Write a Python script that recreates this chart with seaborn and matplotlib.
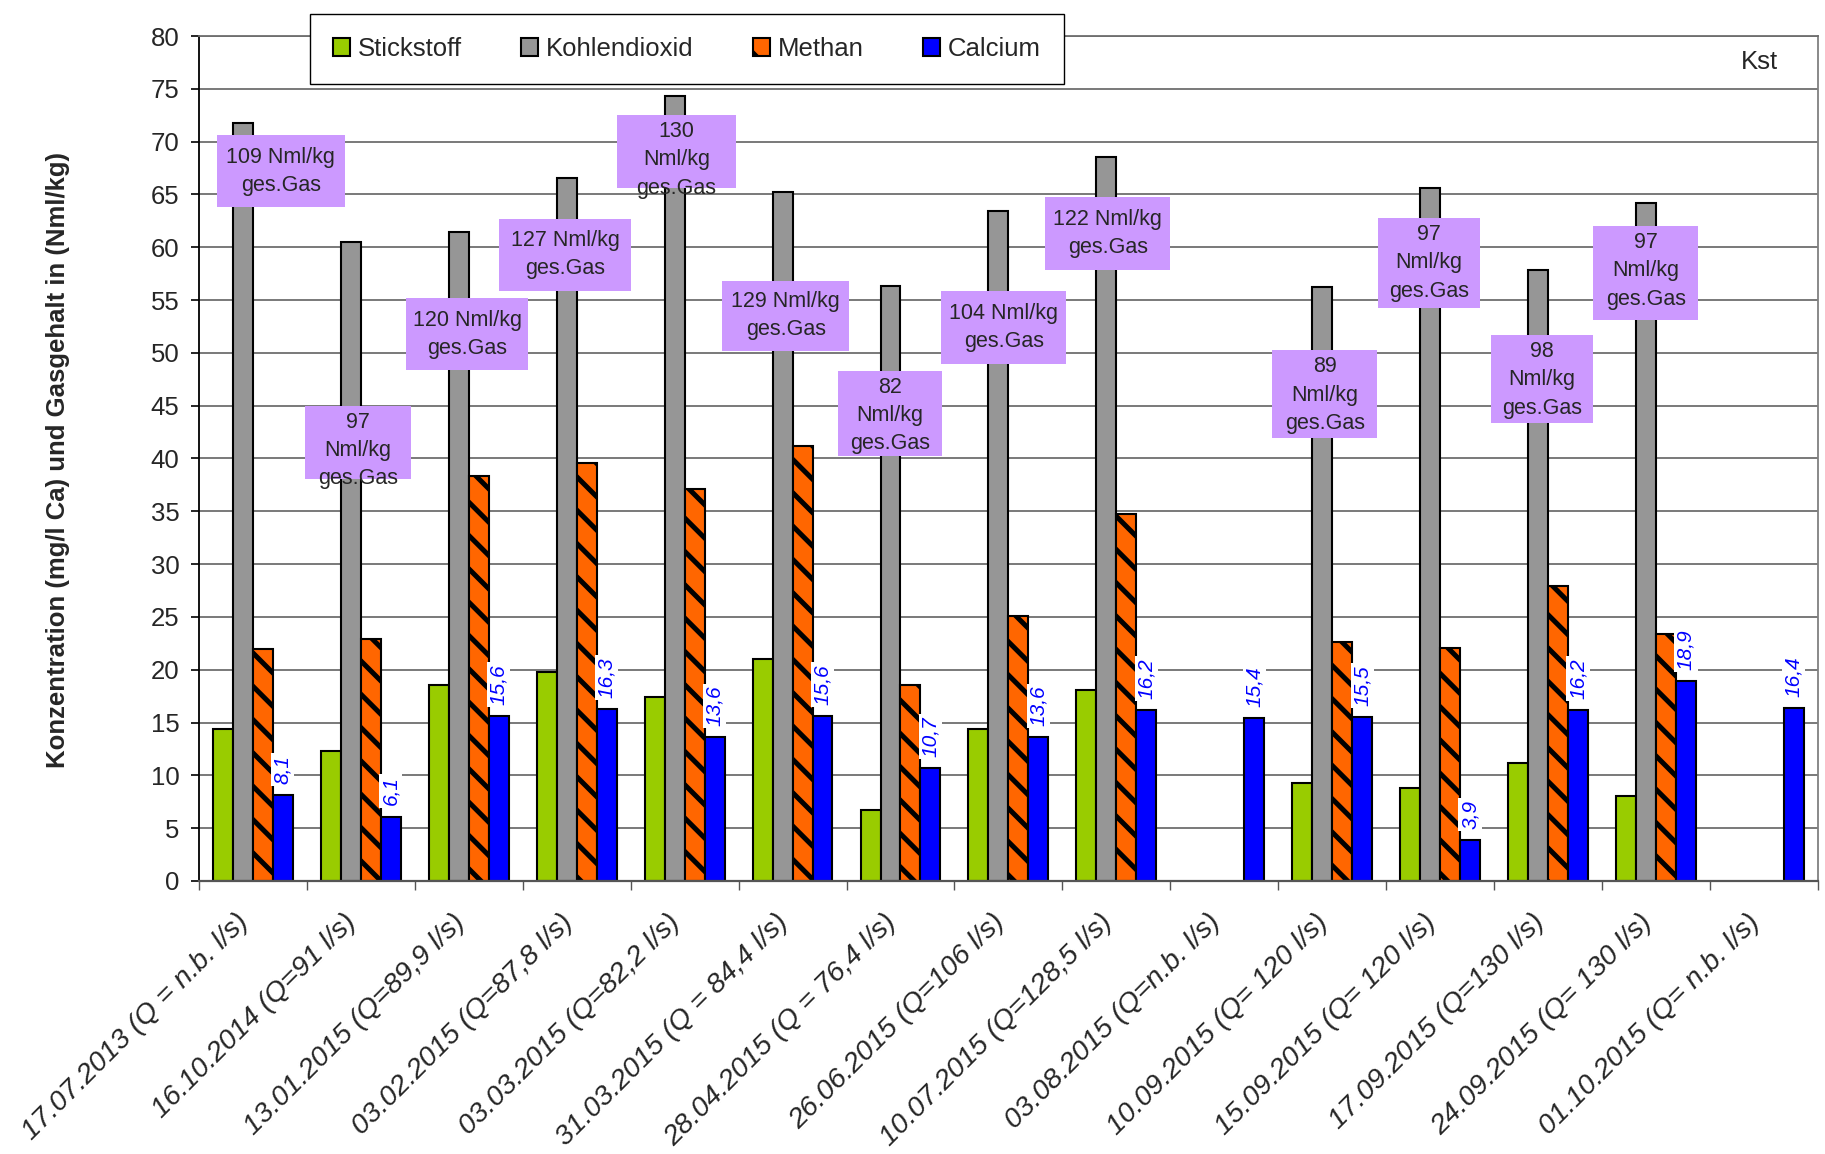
import numpy as np
import pandas as pd
import matplotlib
matplotlib.use("Agg")
import matplotlib.pyplot as plt
import seaborn as sns
from matplotlib.patches import Patch, Rectangle
from matplotlib import transforms

# ---------------- data ----------------
categories = [
    "17.07.2013 (Q = n.b. l/s)", "16.10.2014 (Q=91 l/s)", "13.01.2015 (Q=89,9 l/s)",
    "03.02.2015 (Q=87,8 l/s)", "03.03.2015 (Q=82,2 l/s)", "31.03.2015 (Q = 84,4 l/s)",
    "28.04.2015 (Q = 76,4 l/s)", "26.06.2015 (Q=106 l/s)", "10.07.2015 (Q=128,5 l/s)",
    "03.08.2015 (Q=n.b. l/s)", "10.09.2015 (Q= 120 l/s)", "15.09.2015 (Q= 120 l/s)",
    "17.09.2015 (Q=130 l/s)", "24.09.2015 (Q= 130 l/s)", "01.10.2015 (Q= n.b. l/s)",
]
series_names = ["Stickstoff", "Kohlendioxid", "Methan", "Calcium"]
nan = np.nan
stickstoff = [14.4, 12.3, 18.6, 19.8, 17.4, 21.0, 6.7, 14.4, 18.1, nan, 9.3, 8.8, 11.2, 8.0, nan]
kohlendioxid = [71.8, 60.5, 61.4, 66.6, 74.3, 65.2, 56.3, 63.4, 68.5, nan, 56.2, 65.6, 57.8, 64.2, nan]
methan = [22.0, 22.9, 38.3, 39.6, 37.1, 41.2, 18.6, 25.1, 34.7, nan, 22.6, 22.1, 27.9, 23.4, nan]
calcium = [8.1, 6.1, 15.6, 16.3, 13.6, 15.6, 10.7, 13.6, 16.2, 15.4, 15.5, 3.9, 16.2, 18.9, 16.4]

gas_texts = [
    "109 Nml/kg\nges.Gas", "97\nNml/kg\nges.Gas", "120 Nml/kg\nges.Gas", "127 Nml/kg\nges.Gas",
    "130\nNml/kg\nges.Gas", "129 Nml/kg\nges.Gas", "82\nNml/kg\nges.Gas", "104 Nml/kg\nges.Gas",
    "122 Nml/kg\nges.Gas", "89\nNml/kg\nges.Gas", "97\nNml/kg\nges.Gas", "98\nNml/kg\nges.Gas",
    "97\nNml/kg\nges.Gas",
]

# ---------------- layout / style (annotation box placement) ----------------
box_cx = [0.258, 0.974, 1.984, 2.892, 3.925, 4.936, 5.904, 6.956, 7.92, 9.931, 10.897, 11.942, 12.906]
box_cy = [67.2, 41.55, 51.75, 59.3, 69.05, 53.5, 44.3, 52.4, 61.3, 46.1, 58.5, 47.5, 57.55]
box_w = [1.186, 0.98, 1.13, 1.22, 1.10, 1.18, 0.96, 1.16, 1.16, 0.97, 0.95, 0.95, 0.97]
box_h = [6.82, 6.9, 6.8, 6.8, 6.9, 6.7, 8.05, 7.0, 7.0, 8.25, 8.5, 8.35, 8.9]

colors = ["#99CC00", "#969696", "#FF6600", "#0000FF"]

sns.set_style("white")
plt.rcParams["font.family"] = ["Liberation Sans", "DejaVu Sans"]
plt.rcParams["hatch.linewidth"] = 3.6
plt.rcParams["hatch.color"] = "black"

rows = []
for name, vals in zip(series_names, [stickstoff, kohlendioxid, methan, calcium]):
    for cat, v in zip(categories, vals):
        if not np.isnan(v):
            rows.append({"Datum": cat, "Wert": v, "Serie": name})
df = pd.DataFrame(rows)

fig = plt.figure(figsize=(18.25, 11.54), dpi=100)
ax = fig.add_axes([0.109, 0.2366, 0.8871, 0.7322])

sns.barplot(data=df, x="Datum", y="Wert", hue="Serie", order=categories,
            hue_order=series_names, palette=colors, width=0.74, gap=0,
            saturation=1, edgecolor="black", linewidth=1.5, errorbar=None,
            legend=False, ax=ax)

for p in ax.containers[2]:
    p.set_hatch("\\")

ax.set_xlim(-0.5, len(categories) - 0.5)
ax.set_ylim(0, 80)
ax.set_yticks(np.arange(0, 81, 5))
ax.set_axisbelow(True)
ax.yaxis.grid(True, color="#6e6e6e", linewidth=1.3)
ax.xaxis.grid(False)
ax.set_xlabel("")
ax.set_ylabel("")

ax.spines["left"].set_color("black")
ax.spines["left"].set_linewidth(1.3)
ax.spines["bottom"].set_color("#555555")
ax.spines["bottom"].set_linewidth(1.6)
ax.spines["right"].set_color("#808080")
ax.spines["right"].set_linewidth(1.3)
ax.spines["top"].set_color("#6e6e6e")
ax.spines["top"].set_linewidth(1.3)

ax.tick_params(axis="y", which="major", direction="out", length=6, width=1.2,
               color="black", labelsize=18.5, pad=8, left=True)
ax.set_xticks(range(len(categories)))
ax.set_xticklabels(categories)
ax.set_xticks(np.arange(-0.5, len(categories), 1), minor=True)
ax.tick_params(axis="x", which="major", length=0, pad=27, labelsize=20.5)
ax.tick_params(axis="x", which="minor", direction="out", length=6.5, width=1.0,
               color="#555555", bottom=True)
shift = transforms.ScaledTranslation(-8 / 100, 0, fig.dpi_scale_trans)
for lab in ax.get_xticklabels():
    lab.set_rotation(45)
    lab.set_ha("right")
    lab.set_va("center")
    lab.set_rotation_mode("anchor")
    lab.set_fontstyle("italic")
    lab.set_transform(lab.get_transform() + shift)

# calcium value labels
ca_labels = [f"{v:.1f}".replace(".", ",") for v in calcium]
ax.bar_label(ax.containers[3], labels=ca_labels, rotation=90, padding=8,
             color="#0000FF", fontstyle="italic", fontsize=15,
             bbox=dict(facecolor="white", edgecolor="none", pad=1.5), zorder=6)

# purple gas-content boxes
for txt, cx, cy, w, h in zip(gas_texts, box_cx, box_cy, box_w, box_h):
    rect = Rectangle((cx - w / 2, cy - h / 2), w, h, facecolor="#CC99FF",
                     edgecolor="none", zorder=7)
    ax.add_patch(rect)
    nlines = txt.count("\n") + 1
    if nlines == 3:
        tr = transforms.offset_copy(ax.transData, fig=fig, x=0, y=-6, units="dots")
        t = ax.text(cx, cy + h / 2, txt, transform=tr, ha="center", va="top",
                    fontsize=15.5, linespacing=1.45, zorder=8, multialignment="center")
    else:
        t = ax.text(cx, cy, txt, ha="center", va="center", fontsize=15.5,
                    linespacing=1.45, zorder=8, multialignment="center")
    t.set_clip_path(rect)

ax.text(0.964, 0.969, "Kst", transform=ax.transAxes, ha="center", va="center",
        fontsize=18.5)

handles = [Patch(facecolor=c, edgecolor="black", linewidth=1.5,
                 hatch=("\\" if n == "Methan" else None))
           for n, c in zip(series_names, colors)]
leg = ax.legend(handles, series_names, loc="lower left",
                bbox_to_anchor=(0.0686, 0.943, 0.4656, 0.091), mode="expand",
                ncol=4, fontsize=18.5, frameon=True, fancybox=False,
                edgecolor="black", framealpha=1, borderpad=0.9,
                handlelength=0.65, handleheight=0.75, handletextpad=0.3,
                borderaxespad=0, columnspacing=1.0)
leg.get_frame().set_linewidth(1.0)
leg.set_zorder(10)

fig.text(58 / 1825, 1 - 460 / 1154,
         "Konzentration (mg/l Ca) und Gasgehalt in (Nml/kg)",
         rotation=90, ha="center", va="center", fontsize=18.5, fontweight="bold")

fig.savefig("out.png", dpi=100, facecolor="white")
